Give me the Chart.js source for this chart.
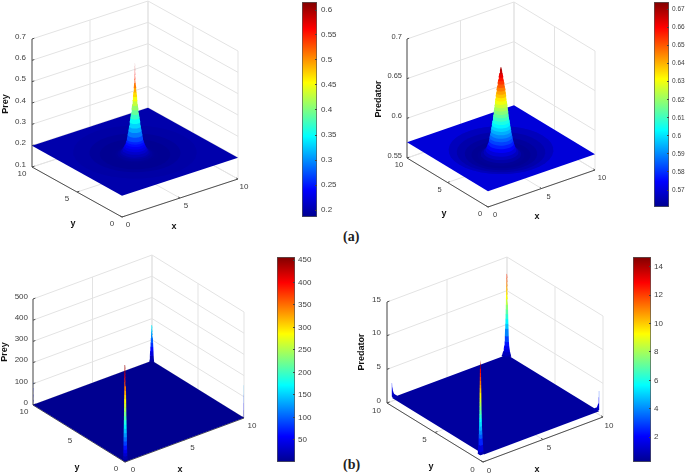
<!DOCTYPE html>
<html>
<head>
<meta charset="utf-8">
<title>Prey and predator surfaces</title>
<script src="https://cdn.jsdelivr.net/npm/chart.js@4"></script>
<style>
  html, body { margin: 0; padding: 0; background: #fff; }
  canvas { position: absolute; }
  .tag { position: absolute; font: bold 14px "Liberation Serif", serif; color: #222; line-height: 14px; }
</style>
</head>
<body>
<div class="tag" style="left:343px;top:230px">(a)</div>
<div class="tag" style="left:343px;top:458px">(b)</div>
<script>
// axis ticks
const xyTicks = [0, 5, 10];
const preyAZTicks = [0.1, 0.2, 0.3, 0.4, 0.5, 0.6, 0.7];
const predAZTicks = [0.55, 0.6, 0.65, 0.7];
const preyBZTicks = [0, 100, 200, 300, 400, 500];
const predBZTicks = [0, 5, 10, 15];

// colorbar ticks
const preyABarTicks = [0.2, 0.25, 0.3, 0.35, 0.4, 0.45, 0.5, 0.55, 0.6];
const predABarTicks = [0.57, 0.58, 0.59, 0.6, 0.61, 0.62, 0.63, 0.64, 0.65, 0.66, 0.67];
const preyBBarTicks = [50, 100, 150, 200, 250, 300, 350, 400, 450];
const predBBarTicks = [2, 4, 6, 8, 10, 12, 14];

// colour ranges of the bars
const preyARange = [0.186, 0.616];
const predARange = [0.5606, 0.6741];
const preyBRange = [0.6, 456.7];
const predBRange = [0.24, 14.7];

// flat part of each surface
const preyAFloor = 0.2;
const predAFloor = 0.57;
const preyBFloor = 1;
const predBFloor = 0.5;

// centre peak of (a): radius from (5,5) and value there, outside to inside
const preyARadius = [4.2, 3.1, 2.4, 1.6, 1.35, 1.2, 1.05, 0.95, 0.85, 0.76, 0.69, 0.63, 0.59, 0.55, 0.5, 0.44, 0.4, 0.36, 0.31, 0.27, 0.23, 0.2, 0.17, 0.14, 0.11, 0.085, 0.06, 0.045, 0.03, 0.02, 0.012, 0.005];
const preyAValue = [0.198, 0.195, 0.188, 0.187, 0.189, 0.19, 0.195, 0.2, 0.21, 0.22, 0.23, 0.24, 0.25, 0.26, 0.28, 0.3, 0.32, 0.34, 0.36, 0.38, 0.4, 0.42, 0.44, 0.46, 0.48, 0.5, 0.52, 0.54, 0.56, 0.58, 0.6, 0.615];
const predARadius = [3.9, 3.3, 2.7, 2.2, 1.75, 1.5, 1.3, 1.15, 1.04, 0.96, 0.9, 0.85, 0.8, 0.76, 0.72, 0.68, 0.64, 0.6, 0.57, 0.54, 0.51, 0.48, 0.45, 0.42, 0.39, 0.36, 0.33, 0.29, 0.25, 0.21, 0.17, 0.13, 0.08, 0.03];
const predAValue = [0.5675, 0.565, 0.563, 0.5615, 0.561, 0.5625, 0.565, 0.568, 0.572, 0.576, 0.58, 0.584, 0.588, 0.592, 0.596, 0.6, 0.604, 0.608, 0.612, 0.616, 0.62, 0.624, 0.628, 0.632, 0.636, 0.64, 0.644, 0.648, 0.652, 0.656, 0.66, 0.664, 0.668, 0.672];

// corner spikes of (b): distance from the corner and value there, bottom to top
const preyBFrontRadius = [0.24, 0.22, 0.2, 0.19, 0.18, 0.17, 0.165, 0.16, 0.15, 0.14, 0.13, 0.125, 0.115, 0.11, 0.105, 0.1, 0.095, 0.09, 0.085, 0.08, 0.075, 0.07, 0.065, 0.06, 0.05, 0.045];
const preyBFrontValue = [5, 10, 25, 40, 55, 75, 95, 115, 135, 155, 175, 195, 215, 235, 255, 275, 295, 315, 335, 355, 375, 395, 410, 425, 440, 456];
const preyBBackRadius = [0.24, 0.21, 0.18, 0.16, 0.14, 0.12, 0.1, 0.085, 0.07, 0.06, 0.05];
const preyBBackValue = [3, 10, 30, 50, 70, 90, 110, 125, 140, 155, 170];
const preyBLeftRadius = [0.05, 0.035, 0.025, 0.02, 0.012];
const preyBLeftValue = [5, 25, 50, 80, 108];
const preyBRightRadius = [0.03, 0.025, 0.02, 0.015, 0.01];
const preyBRightValue = [5, 35, 70, 110, 155];

const predBFrontRadius = [0.3, 0.26, 0.22, 0.185, 0.17, 0.15, 0.135, 0.125, 0.115, 0.11, 0.1, 0.095, 0.09, 0.085, 0.08, 0.075, 0.07, 0.065, 0.06, 0.055, 0.05, 0.04, 0.03];
const predBFrontValue = [0.6, 1, 2, 3, 3.6, 4.2, 4.8, 5.5, 6, 6.6, 7.2, 7.8, 8.4, 9, 9.8, 10.5, 11, 11.6, 12.2, 12.8, 13.4, 14, 14.7];
const predBBackRadius = [0.45, 0.4, 0.32, 0.27, 0.23, 0.2, 0.18, 0.16, 0.145, 0.13, 0.12, 0.11, 0.1, 0.09, 0.08, 0.07, 0.06, 0.05, 0.04, 0.03];
const predBBackValue = [0.6, 0.8, 1.2, 1.6, 2, 2.6, 3.4, 4.5, 5.2, 5.9, 6.6, 7.3, 8, 8.8, 9.5, 10.1, 10.7, 11.3, 11.9, 12.5];
const predBLeftRadius = [0.35, 0.16, 0.07, 0.04, 0.02];
const predBLeftValue = [0.7, 1, 1.5, 2, 2.7];
const predBRightRadius = [0.35, 0.14, 0.06, 0.035, 0.02];
const predBRightValue = [0.7, 1, 1.6, 2.5, 3.5];

// jet colormap
const jetStops = [0, 0.125, 0.375, 0.625, 0.875, 1];
const jetColors = [[0, 0, 143], [0, 0, 255], [0, 255, 255], [255, 255, 0], [255, 0, 0], [128, 0, 0]];

const sansFont = '"Liberation Sans", Arial, sans-serif';
const gridColor = "#e3e3e3";
const axisColor = "#505050";

function jetAt(t) {
  t = Math.min(1, Math.max(0, t));
  let i = 0;
  while (i < jetStops.length - 2 && t > jetStops[i + 1]) i++;
  const f = (t - jetStops[i]) / (jetStops[i + 1] - jetStops[i]);
  const c = jetColors[i].map((v, k) => Math.round(v + (jetColors[i + 1][k] - v) * f));
  return `rgb(${c[0]},${c[1]},${c[2]})`;
}

function makeCanvas(left, top, w, h) {
  const c = document.createElement("canvas");
  c.width = w;
  c.height = h;
  c.style.left = left + "px";
  c.style.top = top + "px";
  c.style.width = w + "px";
  c.style.height = h + "px";
  document.body.appendChild(c);
  return c;
}

// outline around two stacked levels, so the bands of a peak leave no gaps
function hull(points) {
  const pts = points.slice().sort((a, b) => a.x - b.x || a.y - b.y);
  const cross = (o, a, b) => (a.x - o.x) * (b.y - o.y) - (a.y - o.y) * (b.x - o.x);
  const half = (list) => {
    const out = [];
    list.forEach((q) => {
      while (out.length > 1 && cross(out[out.length - 2], out[out.length - 1], q) <= 0) out.pop();
      out.push(q);
    });
    out.pop();
    return out;
  };
  const ring = half(pts).concat(half(pts.slice().reverse()));
  ring.push(ring[0]);
  return ring;
}

// one 3d box with its surface, projected on the flat x/y scales of a scatter chart
function surfaceChart(p) {
  const [left, top, w, h] = p.area;
  const zMin = p.zTicks[0];
  const zMax = p.zTicks[p.zTicks.length - 1];
  const project = (q) => ({
    x: p.origin[0] + (q[0] / 10) * p.xVec[0] + (q[1] / 10) * p.yVec[0],
    y: p.origin[1] + (q[0] / 10) * p.xVec[1] + (q[1] / 10) * p.yVec[1] - ((q[2] - zMin) / (zMax - zMin)) * p.zLen,
  });
  const colorOf = (v) => jetAt((v - p.range[0]) / (p.range[1] - p.range[0]));

  const datasets = [];
  const addLine = (pts, color) => datasets.push({
    data: pts.map(project),
    showLine: true, pointRadius: 0, borderColor: color, borderWidth: 1, fill: false, tension: 0,
  });
  const addShape = (flat, color) => datasets.push({
    data: flat,
    showLine: true, pointRadius: 0, borderWidth: 0, backgroundColor: color, fill: "shape", tension: 0,
  });
  // paint a stack of levels from the first to the last
  const addStack = (levels, values) => {
    levels.forEach((lvl, i) => {
      const below = i > 0 ? levels[i - 1] : lvl;
      const v = i > 0 ? (values[i] + values[i - 1]) / 2 : values[i];
      addShape(hull(below.concat(lvl).map(project)), colorOf(v));
    });
  };

  // walls and floor grid
  p.zTicks.forEach((z) => {
    addLine([[0, 10, z], [10, 10, z], [10, 0, z]], gridColor);
  });
  xyTicks.forEach((t) => {
    addLine([[t, 10, zMin], [t, 10, zMax]], gridColor);
    addLine([[10, t, zMin], [10, t, zMax]], gridColor);
    addLine([[t, 0, zMin], [t, 10, zMin]], gridColor);
    addLine([[0, t, zMin], [10, t, zMin]], gridColor);
  });

  // dark axes and tick marks
  addLine([[0, 10, zMin], [0, 10, zMax]], axisColor);
  addLine([[0, 0, zMin], [10, 0, zMin]], axisColor);
  addLine([[0, 0, zMin], [0, 10, zMin]], axisColor);
  xyTicks.forEach((t) => {
    addLine([[t, 0, zMin], [t, 0.2, zMin]], axisColor);
    addLine([[0, t, zMin], [0.2, t, zMin]], axisColor);
  });
  p.zTicks.forEach((z) => addLine([[0, 10, z], [0.2, 10, z]], axisColor));

  // the surface itself
  const [a, b] = p.inset;
  const f = p.floor;
  addShape([[a, b, f], [10, b, f], [10, 10, f], [a, 10, f], [a, b, f]].map(project), colorOf(f));

  if (p.peakRadius) {
    const rings = p.peakRadius.map((r, i) => {
      const ring = [];
      for (let k = 0; k < 36; k++) {
        const ang = (k / 36) * Math.PI * 2;
        ring.push([5 + r * Math.cos(ang), 5 + r * Math.sin(ang), p.peakValue[i]]);
      }
      return ring;
    });
    addStack(rings, p.peakValue);
  }
  (p.spikes || []).forEach((s) => {
    const [cx, cy, sx, sy] = s.corner;
    const rings = s.radius.map((r, i) => [
      [cx, cy, s.value[i]],
      [cx + sx * r, cy, s.value[i]],
      [cx + sx * r * 0.8, cy + sy * r * 0.8, s.value[i]],
      [cx, cy + sy * r, s.value[i]],
    ]);
    addStack(rings, s.value);
  });

  // first pushed is painted first
  datasets.forEach((d, i) => { d.order = datasets.length - i; });

  const axisText = {
    id: "axisText",
    afterDatasetsDraw(chart) {
      const { ctx, scales } = chart;
      const put = (txt, x, y, font, align, rot) => {
        ctx.save();
        ctx.translate(scales.x.getPixelForValue(x), scales.y.getPixelForValue(y));
        if (rot) ctx.rotate(rot);
        ctx.font = font;
        ctx.fillStyle = font.startsWith("bold") ? "#111" : "#404040";
        ctx.textAlign = align;
        ctx.textBaseline = "middle";
        ctx.fillText(txt, 0, 0);
        ctx.restore();
      };
      const small = `${p.tickFont}px ${sansFont}`;
      const bold = `bold 9px ${sansFont}`;
      xyTicks.forEach((t) => {
        const qx = project([t, 0, zMin]);
        put(String(t), qx.x + p.xOff[0], qx.y + p.xOff[1], small, "center");
        const qy = project([0, t, zMin]);
        put(String(t), qy.x + p.yOff[0], qy.y + p.yOff[1], small, "center");
      });
      p.zTicks.forEach((z) => {
        const q = project([0, 10, z]);
        put(String(z), p.zRight, q.y - 2.5, small, "right");
      });
      put("x", p.xLabel[0], p.xLabel[1], bold, "center");
      put("y", p.yLabel[0], p.yLabel[1], bold, "center");
      put(p.zName, p.zLabel[0], p.zLabel[1], bold, "center", -Math.PI / 2);
    },
  };

  new Chart(makeCanvas(left, top, w, h), {
    type: "scatter",
    data: { datasets },
    plugins: [axisText],
    options: {
      responsive: false,
      animation: false,
      events: [],
      layout: { padding: 0 },
      plugins: { legend: { display: false }, tooltip: { enabled: false } },
      scales: {
        x: { type: "linear", display: false, min: left, max: left + w },
        y: { type: "linear", display: false, min: top, max: top + h, reverse: true },
      },
    },
  });
}

// colorbar: one floating bar filled with the colormap, real axis on the right
function colorBar(b) {
  const [left, top, barW, barH] = b.box;
  const room = 38;
  new Chart(makeCanvas(left, top - 2, barW + room, barH + 10), {
    type: "bar",
    data: {
      labels: [""],
      datasets: [{
        data: [b.range],
        barPercentage: 1,
        categoryPercentage: 1,
        borderWidth: 1,
        borderColor: "#555",
        borderSkipped: false,
        backgroundColor(c) {
          const area = c.chart.chartArea;
          if (!area) return "#00f";
          const g = c.chart.ctx.createLinearGradient(0, area.bottom, 0, area.top);
          jetStops.forEach((s) => g.addColorStop(s, jetAt(s)));
          return g;
        },
      }],
    },
    options: {
      responsive: false,
      animation: false,
      events: [],
      layout: { padding: { top: 2, bottom: 8, left: 0, right: 0 } },
      plugins: { legend: { display: false }, tooltip: { enabled: false } },
      scales: {
        x: { display: false },
        y: {
          position: "right",
          min: b.range[0],
          max: b.range[1],
          afterBuildTicks(axis) { axis.ticks = b.ticks.map((v) => ({ value: v })); },
          afterFit(axis) {
            axis.width = room;
            axis.paddingTop = 0;
            axis.paddingBottom = 0;
          },
          grid: { drawOnChartArea: false, tickLength: -2, tickColor: "#444", z: 1 },
          border: { display: false },
          ticks: {
            autoSkip: false,
            padding: b.pad,
            color: "#404040",
            font: { family: sansFont, size: b.size },
            callback: (v) => String(v),
          },
        },
      },
    },
  });
}

surfaceChart({
  area: [0, 0, 300, 235], origin: [122, 217], xVec: [116, -38], yVec: [-90, -50], zLen: 128,
  zTicks: preyAZTicks, range: preyARange, floor: preyAFloor, inset: [0, 0],
  peakRadius: preyARadius, peakValue: preyAValue,
  tickFont: 8, xOff: [6, 8], yOff: [-10, 7], zRight: 26,
  xLabel: [174, 227], yLabel: [73, 224], zLabel: [6, 104], zName: "Prey",
});
surfaceChart({
  area: [345, 0, 305, 230], origin: [488, 207], xVec: [107, -37], yVec: [-81, -49], zLen: 119,
  zTicks: predAZTicks, range: predARange, floor: predAFloor, inset: [0, 0],
  peakRadius: predARadius, peakValue: predAValue,
  tickFont: 7.5, xOff: [7, 8], yOff: [-8, 7], zRight: 402,
  xLabel: [537, 217], yLabel: [444, 214], zLabel: [379, 99], zName: "Predator",
});
surfaceChart({
  area: [0, 235, 275, 239], origin: [125, 462], xVec: [119, -44], yVec: [-92, -57], zLen: 106,
  zTicks: preyBZTicks, range: preyBRange, floor: preyBFloor, inset: [0, 0],
  spikes: [
    { corner: [10, 10, -1, -1], radius: preyBBackRadius, value: preyBBackValue },
    { corner: [0, 10, 1, -1], radius: preyBLeftRadius, value: preyBLeftValue },
    { corner: [10, 0, -1, 1], radius: preyBRightRadius, value: preyBRightValue },
    { corner: [0, 0, 1, 1], radius: preyBFrontRadius, value: preyBFrontValue },
  ],
  tickFont: 8, xOff: [8, 8], yOff: [-9, 7], zRight: 28,
  xLabel: [180, 470], yLabel: [77, 468], zLabel: [5, 352], zName: "Prey",
});
surfaceChart({
  area: [345, 235, 285, 239], origin: [483, 462], xVec: [120, -45], yVec: [-96, -59], zLen: 101,
  zTicks: predBZTicks, range: predBRange, floor: predBFloor, inset: [0.4, 0.4],
  spikes: [
    { corner: [10, 10, -1, -1], radius: predBBackRadius, value: predBBackValue },
    { corner: [0.4, 10, 1, -1], radius: predBLeftRadius, value: predBLeftValue },
    { corner: [10, 0.4, -1, 1], radius: predBRightRadius, value: predBRightValue },
    { corner: [0.1, 0.4, 1, 1], radius: predBFrontRadius, value: predBFrontValue },
  ],
  tickFont: 8, xOff: [6, 8.5], yOff: [-10.5, 7.5], zRight: 381,
  xLabel: [537, 470], yLabel: [431, 467], zLabel: [362, 352], zName: "Predator",
});

colorBar({ box: [302, 2, 15, 215], range: preyARange, ticks: preyABarTicks, size: 8, pad: 6 });
colorBar({ box: [654, 2, 15, 205], range: predARange, ticks: predABarTicks, size: 6.5, pad: 5 });
colorBar({ box: [277, 257, 18, 205], range: preyBRange, ticks: preyBBarTicks, size: 8, pad: 5 });
colorBar({ box: [633, 257, 18, 205], range: predBRange, ticks: predBBarTicks, size: 8, pad: 5 });
</script>
</body>
</html>
